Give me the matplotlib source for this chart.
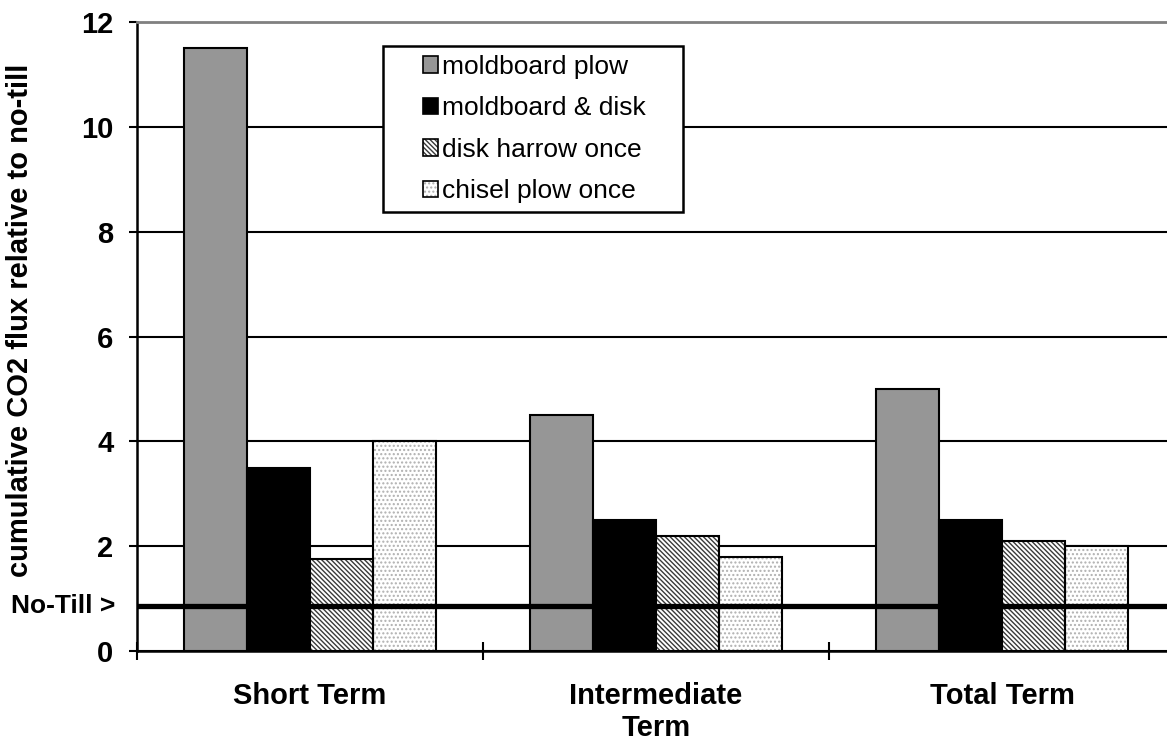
import matplotlib
matplotlib.use("Agg")
import matplotlib.pyplot as plt
import numpy as np
from matplotlib.patches import Patch, Rectangle
from matplotlib.legend_handler import HandlerTuple
import matplotlib.transforms as mtransforms

plt.rcParams['font.family'] = ['Liberation Sans', 'DejaVu Sans']
plt.rcParams['hatch.linewidth'] = 1.0

# Data
categories = ["Short Term", "Intermediate\nTerm", "Total Term"]
series_names = ["moldboard plow", "moldboard & disk", "disk harrow once", "chisel plow once"]
moldboard_plow = [11.5, 4.5, 5.0]
moldboard_disk = [3.5, 2.5, 2.5]
disk_harrow = [1.75, 2.2, 2.1]
chisel_plow = [4.0, 1.8, 2.0]
no_till_level = 0.86
y_ticks = [0, 2, 4, 6, 8, 10, 12]

series = [moldboard_plow, moldboard_disk, disk_harrow, chisel_plow]
# fill, hatch colour, hatch pattern for each series
styles = [
    dict(face="#969696", hatch=None, hcolor=None),
    dict(face="#000000", hatch=None, hcolor=None),
    dict(face="#ffffff", hatch="\\\\\\\\\\\\\\", hcolor="#3a3a3a"),
    dict(face="#ffffff", hatch="....", hcolor="#b0b0b0"),
]

W, H = 1167, 744
fig = plt.figure(figsize=(W / 100, H / 100), dpi=100)
ax = fig.add_axes([137 / W, 93 / H, 1038 / W, 629 / H])

n = len(series)
bar_w = 0.182
x = np.arange(len(categories)) + 0.5

handles = []
for k, (vals, st) in enumerate(zip(series, styles)):
    pos = x + (k - (n - 1) / 2) * bar_w
    if st["hatch"] is None:
        ax.bar(pos, vals, width=bar_w, color=st["face"], edgecolor="black",
               linewidth=1.5, zorder=2)
        h = Patch(facecolor=st["face"], edgecolor="black", linewidth=1.2)
    else:
        ax.bar(pos, vals, width=bar_w, color=st["face"], edgecolor=st["hcolor"],
               hatch=st["hatch"], linewidth=0, zorder=2)
        ax.bar(pos, vals, width=bar_w, fill=False, edgecolor="black",
               linewidth=1.5, zorder=2.1)
        h = (Patch(facecolor=st["face"], edgecolor=st["hcolor"], hatch=st["hatch"], linewidth=0),
             Patch(fill=False, edgecolor="black", linewidth=1.2))
    handles.append(h)

# No-till reference line
ax.axhline(no_till_level, color="black", linewidth=3.8, zorder=3)
trans = mtransforms.blended_transform_factory(ax.transAxes, ax.transData)
ax.text(-0.021, no_till_level, "No-Till >", transform=trans, ha="right", va="center",
        fontsize=19, fontweight="bold", clip_on=False)

ax.set_xlim(0, len(categories))
ax.set_ylim(0, 12)
ax.set_yticks(y_ticks)
ax.set_yticklabels([str(v) for v in y_ticks], fontsize=21, fontweight="bold")
ax.tick_params(axis="y", direction="out", length=6, width=1.5, pad=11)

ax.set_xticks(np.arange(len(categories) + 1))
ax.set_xticklabels([])
ax.tick_params(axis="x", which="major", direction="inout", length=13, width=1.5)
ax.set_xticks(x, minor=True)
ax.set_xticklabels(categories, minor=True, fontsize=21, fontweight="bold",
                   linespacing=1.2)
ax.tick_params(axis="x", which="minor", length=0, pad=22)

ax.set_axisbelow(True)
ax.yaxis.grid(True, color="black", linewidth=1.5)
ax.xaxis.grid(False)

for side in ["left", "bottom"]:
    ax.spines[side].set_color("black")
    ax.spines[side].set_linewidth(1.8)
ax.spines["top"].set_color("#808080")
ax.spines["top"].set_linewidth(2)
ax.spines["right"].set_visible(False)

fig.text(20 / W, 1 - 320 / H, "cumulative CO2 flux relative to no-till", rotation=90,
         ha="center", va="center", fontsize=21, fontweight="bold")

# Legend with a plain rectangular frame
frame = Rectangle((383 / W, 1 - 212 / H), 300 / W, 166 / H, transform=fig.transFigure,
                  facecolor="white", edgecolor="black", linewidth=1.8, zorder=5)
fig.add_artist(frame)
leg = fig.legend(handles, series_names, loc="upper left",
                 bbox_to_anchor=(423 / W, 1 - 55 / H), frameon=False, fontsize=19,
                 handlelength=0.58, handleheight=0.58, handletextpad=0.15,
                 labelspacing=0.66, borderpad=0, borderaxespad=0,
                 handler_map={tuple: HandlerTuple(ndivide=1)})
leg.set_zorder(6)

fig.savefig("out.png", dpi=100)
